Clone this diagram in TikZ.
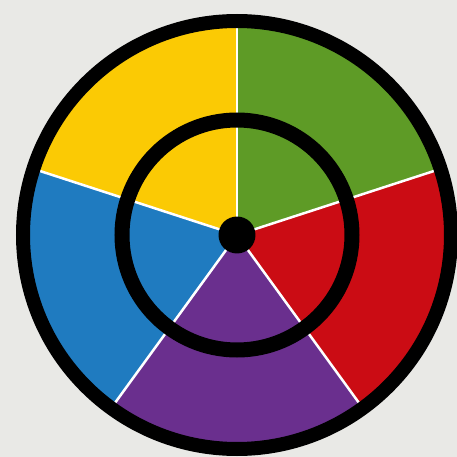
\documentclass[tikz,border=0pt]{standalone}
\usepackage{xcolor}
\usepackage{tikz}
\usetikzlibrary{calc}
\definecolor{paper}{HTML}{E9E9E6}
\definecolor{wyellow}{HTML}{FBCA04}
\definecolor{wgreen}{HTML}{5E9B26}
\definecolor{wred}{HTML}{CB0C14}
\definecolor{wpurple}{HTML}{6A2F8E}
\definecolor{wblue}{HTML}{1F7BC0}
\tikzset{
  sector/.style ={draw=none},
  divider/.style={draw=white, line width=0.05cm},
  bigring/.style={draw=black, line width=0.28cm},
  smallring/.style={draw=black, line width=0.30cm},
  hub/.style    ={fill=black},
}

\begin{document}
\begin{tikzpicture}
  \useasboundingbox (0,0) rectangle (9.14,9.14);
  \clip (0,0) rectangle (9.14,9.14);
  \fill[paper] (0,0) rectangle (9.14,9.14);
  \coordinate (C) at (4.74,4.44);
  % colour sectors
  \foreach \a/\col in {90/wyellow, 18/wgreen, -54/wred, -126/wpurple, 162/wblue}
    \fill[sector, \col] (C) -- ($(C)+(\a:4.30cm)$) arc[start angle=\a, end angle=\a+72, radius=4.30cm] -- cycle;
  % white borders
  \foreach \a in {90, 18, -54, -126, 162}
    \draw[divider] (C) -- ($(C)+(\a:4.20cm)$);
  % rings and hub
  \draw[bigring]   (C) circle[radius=4.28cm];
  \draw[smallring] (C) circle[radius=2.30cm];
  \fill[hub]       (C) circle[radius=0.37cm];
\end{tikzpicture}
\end{document}
